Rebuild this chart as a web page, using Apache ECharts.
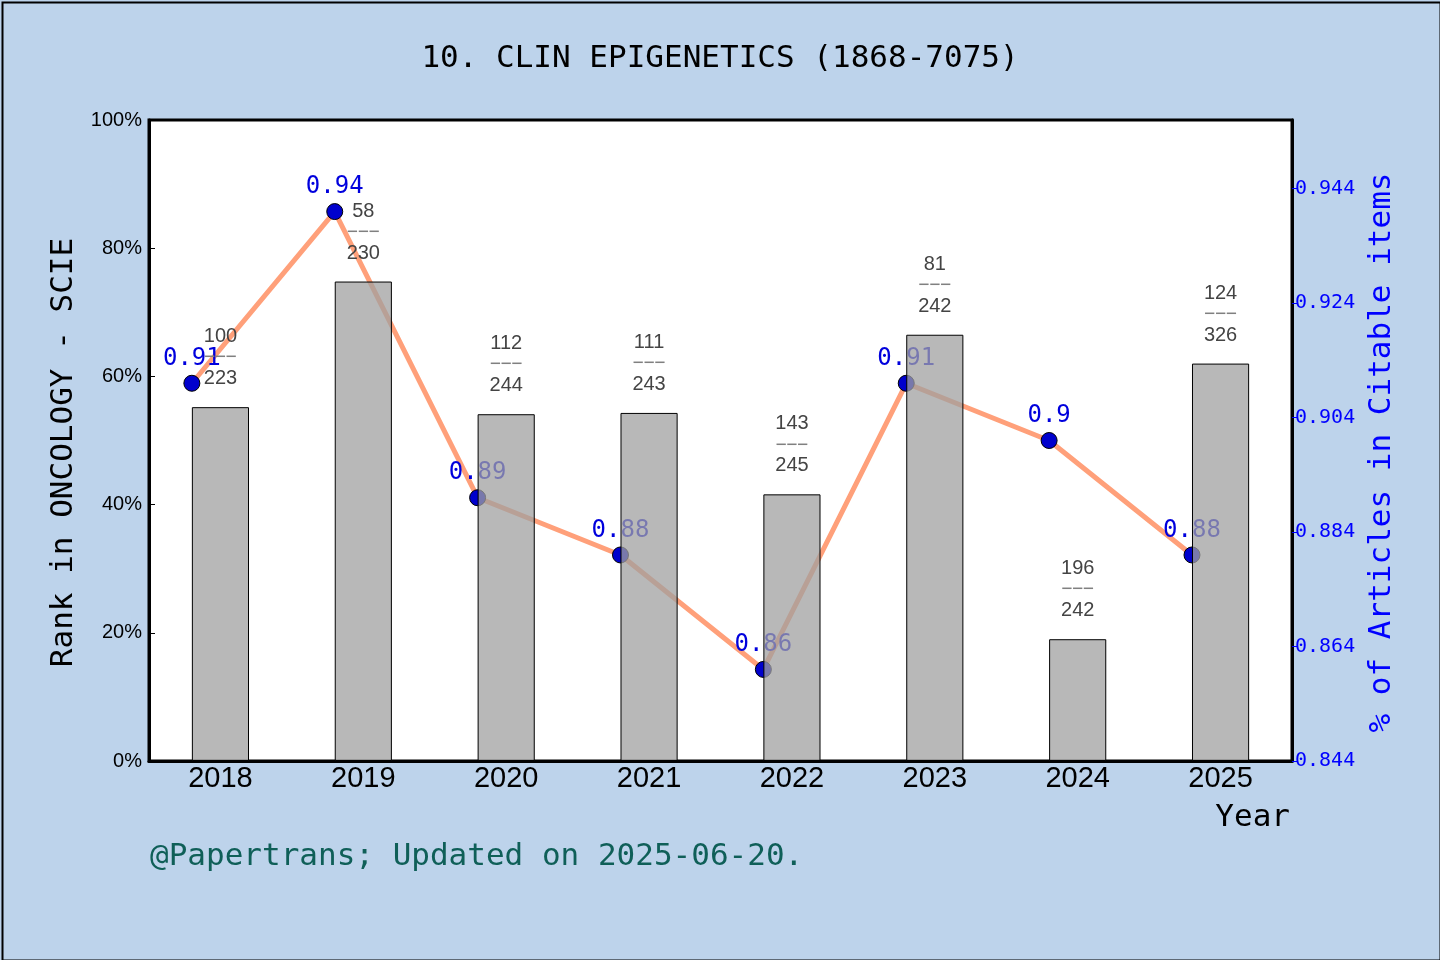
<!DOCTYPE html>
<html>
<head>
<meta charset="utf-8">
<script src="https://cdn.jsdelivr.net/npm/echarts@6/dist/echarts.min.js"></script>
<style>
  html, body { margin: 0; padding: 0; background: #bdd3eb; }
  #main { width: 1440px; height: 960px; }
</style>
</head>
<body>
<div id="main"></div>
<script>
// data
var years = ["2018", "2019", "2020", "2021", "2022", "2023", "2024", "2025"];
var rankPercent = [55.2, 74.8, 54.1, 54.3, 41.6, 66.5, 19.0, 62.0];
var ranks = [100, 58, 112, 111, 143, 81, 196, 124];
var totals = [223, 230, 244, 243, 245, 242, 242, 326];
var citableShare = [0.91, 0.94, 0.89, 0.88, 0.86, 0.91, 0.9, 0.88];
var rightTicks = [0.844, 0.864, 0.884, 0.904, 0.924, 0.944];

var mono = "DejaVu Sans Mono";
var sans = "'Liberation Sans', Arial";

var myChart = echarts.init(document.getElementById("main"));

// line points sit at the left edge of each bar
var lineData = citableShare.map(function (v, i) {
  return [i - 0.2, v];
});

var option = {
  backgroundColor: "#bdd3eb",
  animation: false,
  title: {
    text: "10. CLIN EPIGENETICS (1868-7075)",
    left: "center",
    top: 38,
    textStyle: { fontFamily: mono, fontSize: 31, fontWeight: "normal", color: "#000" }
  },
  grid: {
    left: 149,
    right: 148,
    top: 120,
    bottom: 199,
    show: true,
    backgroundColor: "#fff",
    borderColor: "#000",
    borderWidth: 3
  },
  xAxis: [
    {
      type: "category",
      data: years,
      axisLine: { onZero: false, lineStyle: { color: "#000", width: 3 } },
      axisTick: { inside: true, length: 6, lineStyle: { color: "#000", width: 1 } },
      axisLabel: { fontFamily: sans, fontSize: 29, color: "#000", margin: 3 }
    },
    {
      type: "value",
      min: -0.5,
      max: 7.5,
      show: false
    }
  ],
  yAxis: [
    {
      type: "value",
      min: 0,
      max: 100,
      interval: 20,
      name: "Rank in ONCOLOGY - SCIE",
      nameLocation: "middle",
      nameGap: 54,
      nameTextStyle: { fontFamily: mono, fontSize: 31, color: "#000", padding: [0, 24, 0, 0] },
      axisLine: { show: true, onZero: false, lineStyle: { color: "#000", width: 3 } },
      axisTick: { show: true, inside: true, length: 6, lineStyle: { color: "#000" } },
      axisLabel: { formatter: "{value}%", fontFamily: sans, fontSize: 20, color: "#000", margin: 7 },
      splitLine: { show: false }
    },
    {
      type: "value",
      min: 0.844,
      max: 0.956,
      interval: 0.02,
      position: "right",
      name: "% of Articles in Citable items",
      nameLocation: "middle",
      nameGap: 62,
      nameRotate: 90,
      nameTextStyle: { fontFamily: mono, fontSize: 31, color: "#0000ff", padding: [0, 24, 0, 0] },
      axisLine: { show: true, onZero: false, lineStyle: { color: "#000", width: 3 } },
      axisTick: { show: true, length: 5, lineStyle: { color: "#0000ff" } },
      axisLabel: {
        showMaxLabel: false,
        fontFamily: mono,
        fontSize: 20,
        color: "#0000ff",
        margin: 3,
        formatter: function (v) {
          var hit = rightTicks.find(function (t) { return Math.abs(t - v) < 1e-6; });
          return hit === undefined ? "" : hit.toFixed(3);
        }
      },
      splitLine: { show: false }
    }
  ],
  series: [
    {
      name: "Rank",
      type: "bar",
      xAxisIndex: 0,
      yAxisIndex: 0,
      data: rankPercent,
      barWidth: "40%",
      z: 3,
      itemStyle: { color: "rgba(160,160,160,0.75)", borderColor: "#000", borderWidth: 1 },
      label: {
        show: true,
        position: "top",
        distance: 18,
        formatter: function (p) {
          return "{n|" + ranks[p.dataIndex] + "}\n{d|−−−}\n{n|" + totals[p.dataIndex] + "}";
        },
        rich: {
          n: { fontFamily: sans, fontSize: 20, color: "#444", lineHeight: 21 },
          d: { fontFamily: mono, fontSize: 18, color: "#808080", lineHeight: 21 }
        }
      }
    },
    {
      name: "Citable",
      type: "line",
      xAxisIndex: 1,
      yAxisIndex: 1,
      data: lineData,
      z: 2,
      symbol: "circle",
      symbolSize: 16,
      lineStyle: { color: "#ffa07a", width: 5 },
      itemStyle: { color: "#0000cd", borderColor: "#000", borderWidth: 1 },
      label: {
        show: true,
        position: "top",
        distance: 4,
        fontFamily: mono,
        fontSize: 24,
        color: "#0000dd",
        formatter: function (p) { return String(p.value[1]); }
      }
    }
  ],
  graphic: [
    {
      type: "text",
      left: 150,
      top: 841,
      style: { text: "@Papertrans; Updated on 2025-06-20.", font: "31px 'DejaVu Sans Mono'", fill: "#0f5f58" }
    },
    {
      type: "text",
      right: 150,
      top: 802,
      style: { text: "Year", font: "31px 'DejaVu Sans Mono'", fill: "#000" }
    },
    {
      type: "rect",
      left: 0,
      top: 0,
      shape: { x: 1, y: 1, width: 1438, height: 958 },
      style: { fill: null, stroke: "#000", lineWidth: 2 },
      silent: true
    }
  ]
};

myChart.setOption(option);
</script>
</body>
</html>
